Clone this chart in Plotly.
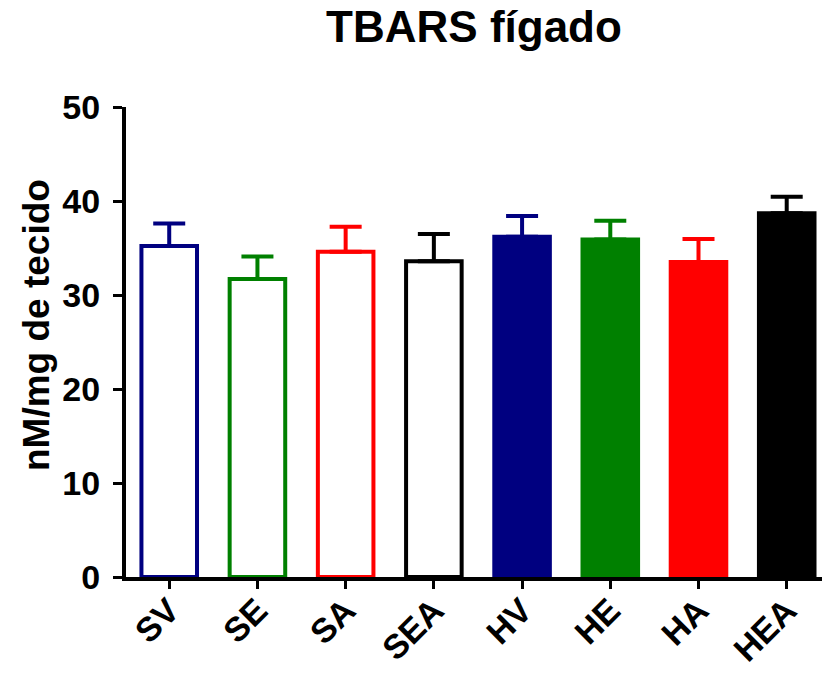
import plotly.graph_objects as go

# Liver TBARS per experimental group (mean + SEM)
groups = ["SV", "SE", "SA", "SEA", "HV", "HE", "HA", "HEA"]
means = [35.2, 31.7, 34.6, 33.6, 36.2, 35.9, 33.5, 38.7]
sem = [2.4, 2.4, 2.65, 2.9, 2.2, 2.0, 2.45, 1.75]
colors = ["#000080", "#008000", "#FF0000", "#000000",
          "#000080", "#008000", "#FF0000", "#000000"]
filled = [False, False, False, False, True, True, True, True]
y_ticks = [0, 10, 20, 30, 40, 50]

FONT = "Arial, Liberation Sans, Helvetica, sans-serif"

fig = go.Figure()
for g, m, e, c, f in zip(groups, means, sem, colors, filled):
    fig.add_trace(go.Bar(
        x=[g], y=[m],
        width=0.63,
        marker=dict(color=c if f else "white", line=dict(color=c, width=4)),
        error_y=dict(type="data", symmetric=False, array=[e], arrayminus=[0],
                     color=c, thickness=4, width=16),
        showlegend=False,
    ))

fig.update_layout(
    width=822, height=673,
    margin=dict(l=126, r=0, t=107, b=96),
    plot_bgcolor="white", paper_bgcolor="white",
    barmode="overlay",
    font=dict(family=FONT, color="black"),
    title=dict(text="TBARS fígado", x=0.5, xref="paper",
               y=1 - 27 / 673, yref="container", yanchor="middle", xanchor="center",
               font=dict(size=44, weight="bold", family=FONT)),
)

fig.update_xaxes(
    categoryorder="array", categoryarray=groups,
    range=[-0.49, 7.40],
    showline=True, linecolor="black", linewidth=4,
    ticks="outside", ticklen=8, tickwidth=3, tickcolor="black",
    tickangle=-45, tickfont=dict(size=34, weight="bold", family=FONT),
    ticklabelstandoff=-12, automargin=False,
    showgrid=False, zeroline=False,
)
fig.update_yaxes(
    range=[0, 50], tickvals=y_ticks,
    showline=True, linecolor="black", linewidth=4,
    ticks="outside", ticklen=9, tickwidth=3, tickcolor="black",
    tickfont=dict(size=34, weight="bold", family=FONT),
    ticklabelstandoff=6, automargin=False,
    showgrid=False, zeroline=False,
)

fig.add_annotation(
    text="nM/mg de tecido", textangle=-90,
    xref="paper", yref="paper",
    x=(36 - 126) / 696, y=(577 - 325) / 470,
    xanchor="center", yanchor="middle", showarrow=False,
    font=dict(size=37, weight="bold", family=FONT),
)

fig.write_html("out.html")
